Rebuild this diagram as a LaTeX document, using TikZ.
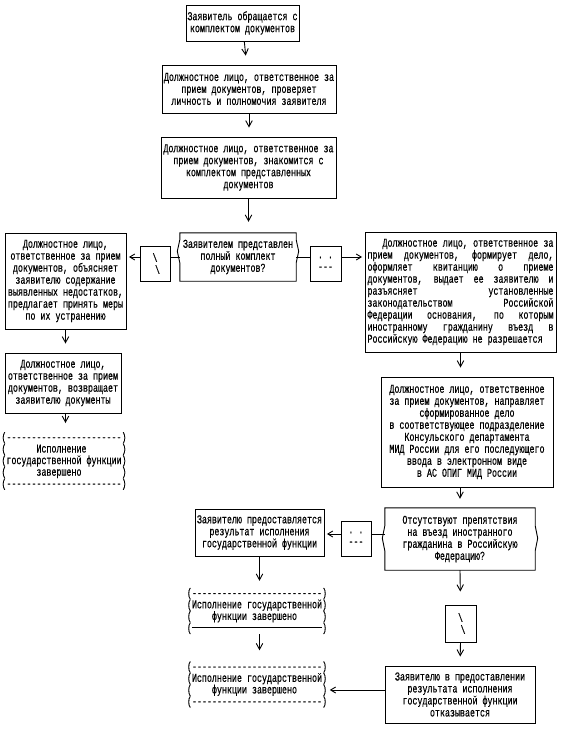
\documentclass[tikz,border=0pt]{standalone}
\usepackage{fontspec}
\usepackage{tikz}
\usetikzlibrary{arrows.meta}
\newfontfamily\pixfont[FakeStretch=0.695, FakeBold=0.4]{Liberation Mono}
\newcommand{\pix}{\pixfont\fontsize{12}{12}\selectfont}
% frame of a question box: node, notch top, notch tip, notch bottom (pt below the top)
\newcommand{\askframe}[4]{%
  \draw[link] (#1.north west) -- (#1.north east)
    -- ([yshift=-#2pt]#1.north east) -- ([xshift=2.5pt,yshift=-#3pt]#1.north east)
    -- ([yshift=-#4pt]#1.north east) -- (#1.south east) -- (#1.south west)
    -- ([yshift=-#4pt]#1.north west) -- ([xshift=-2.5pt,yshift=-#3pt]#1.north west)
    -- ([yshift=-#2pt]#1.north west) -- cycle;}

\begin{document}
\begin{tikzpicture}[x=1pt, y=-1pt,
    link/.style={line width=0.9pt},
    blk/.style={draw, line width=0.9pt, inner sep=0pt, align=center, font=\pix},
    ask/.style={inner sep=0pt, align=center, font=\pix},
    plain/.style={inner sep=0pt, align=left, font=\pixfont\fontsize{12}{11.6}\selectfont},
    flow/.style={link, -{Straight Barb[length=6pt,width=6.5pt]}, shorten >=9pt},
    side/.style={link, -{Straight Barb[length=5pt,width=6pt]}, shorten >=2.5pt}]
    \useasboundingbox (0,0) rectangle (563,734);

    % Reception of documents
    \node[blk, minimum width=113pt, minimum height=36pt] (apply) at (242.5,23) {Заявитель обращается с\\комплектом документов};
    \node[blk, minimum width=174pt, minimum height=48pt] (check) at (249,89) {Должностное лицо, ответственное за\\прием документов, проверяет\\личность и полномочия заявителя};
    \node[blk, minimum width=175pt, minimum height=61pt] (review) at (248.5,167.5) {Должностное лицо, ответственное за\\прием документов, знакомится с\\комплектом представленных\\документов};
    \node[ask, minimum width=116pt, minimum height=48pt] (full) at (238,257) {Заявителем представлен\\полный комплект\\документов?};
    \askframe{full}{7}{18.5}{30}

    \draw[flow] (apply) -- (check);
    \draw[flow] (check) -- (check.south |- review.north);
    \draw[flow, shorten >=11pt] (review.south) -- (review.south |- full.north);

    % Incomplete set
    \node[blk, minimum width=30pt, minimum height=35pt] (noA) at (155,263.5) {\textbackslash~\\~\textbackslash};
    \node[blk, minimum width=121pt, minimum height=96pt] (explain) at (65.5,281) {Должностное лицо,\\ответственное за прием\\документов, объясняет\\заявителю содержание\\выявленных недостатков,\\предлагает принять меры\\по их устранению};
    \node[blk, minimum width=116pt, minimum height=60pt] (giveback) at (63,383) {Должностное лицо,\\ответственное за прием\\документов, возвращает\\заявителю документы};
    \node[plain] (doneA) at (64,461) {(-----------------------)\\(~~~~~~Исполнение~~~~~~~)\\(государственной~функции)\\(~~~~~~завершено~~~~~~~~)\\(-----------------------)};

    \draw[link] (full.west) -- (noA.east |- full.west);
    \draw[side] (noA.west |- full.west) -- (explain.east |- full.west);
    \draw[flow] (explain.south) -- (explain.south |- giveback.north);
    \draw[flow] (explain.south |- giveback.south) -- (explain.south |- doneA.north);

    % Complete set
    \node[blk, minimum width=31pt, minimum height=35pt] (yesA) at (325.5,263.5) {.~.\\---};
    \node[blk, minimum width=191pt, minimum height=120pt, text width=186pt, align=justify] (issue) at (460.5,292) {\spaceskip=5pt plus 60pt\relax
      \leavevmode\hspace*{15pt}Должностное лицо, ответственное за\linebreak прием документов, формирует дело,\linebreak оформляет квитанцию о приеме\linebreak документов, выдает ее заявителю и\linebreak разъясняет установленные\linebreak законодательством Российской\linebreak Федерации основания, по которым\linebreak иностранному гражданину въезд в\linebreak Российскую Федерацию не разрешается};
    \node[blk, minimum width=172pt, minimum height=110pt] (send) at (467,432) {Должностное лицо, ответственное\\за прием документов, направляет\\сформированное дело\\в соответствующее подразделение\\Консульского департамента\\МИД России для его последующего\\ввода в электронном виде\\в АС ОПИГ МИД России};
    \node[ask, minimum width=150pt, minimum height=62pt] (entry) at (460,539) {Отсутствуют препятствия\\на въезд иностранного\\гражданина в Российскую\\Федерацию?};
    \askframe{entry}{18}{30.5}{43}

    \draw[link] (full.east) -- (yesA.west |- full.east);
    \draw[side] (yesA.east |- full.east) -- (issue.west |- full.east);
    \draw[flow] (issue.south) -- (issue.south |- send.north);
    \draw[flow] (entry.north |- send.south) -- (entry.north);

    % No obstacles
    \node[blk, minimum width=30pt, minimum height=35pt] (yesB) at (356,538.5) {.~.\\---};
    \node[blk, minimum width=129pt, minimum height=47pt] (result) at (259.5,532.5) {Заявителю предоставляется\\результат исполнения\\государственной функции};
    \node[plain] (doneB) at (257,611) {(--------------------------)\\(Исполнение государственной)\\(~~~~функции завершено~~~~~)\\(\rule[3.3pt]{130.1pt}{0.8pt})};
    \node[plain] (doneC) at (257,684.5) {(--------------------------)\\(Исполнение государственной)\\(~~~~функции завершено~~~~~)\\(--------------------------)};
    \coordinate (yesrow) at ([yshift=5pt]entry.west);

    \draw[link] (yesrow) -- (yesB.east |- yesrow);
    \draw[side] (yesB.west |- yesrow) -- (result.east |- yesrow);
    \draw[flow, shorten >=7pt] (result.south) -- (result.south |- doneB.north);
    \draw[flow, shorten >=11pt] (result.south |- doneB.south) -- (result.south |- doneC.north);

    % Obstacles found
    \node[blk, minimum width=31pt, minimum height=37pt] (noB) at (460.5,623.5) {\textbackslash~\\~\textbackslash};
    \node[blk, minimum width=150pt, minimum height=57pt] (refuse) at (460,694.5) {Заявителю в предоставлении\\результата исполнения\\государственной функции\\отказывается};
    \coordinate (refuserow) at ([yshift=4.5pt]refuse.west);

    \draw[flow, shorten >=13pt] (entry.south) -- (noB.north);
    \draw[flow] (noB.south) -- (refuse.north);
    \draw[side] (refuserow) -- (doneC.east |- refuserow);
\end{tikzpicture}
\end{document}
